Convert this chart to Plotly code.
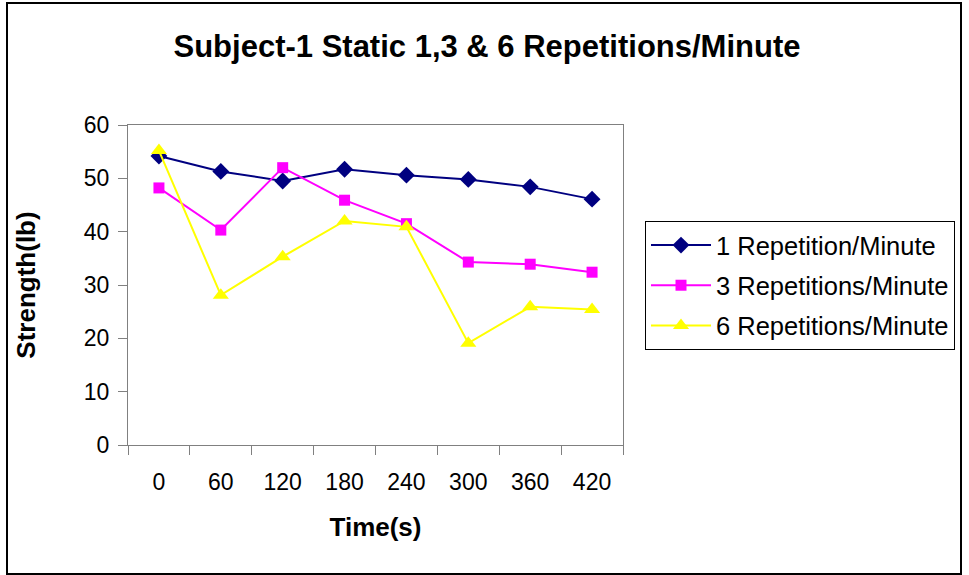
import plotly.graph_objects as go

times = ["0", "60", "120", "180", "240", "300", "360", "420"]
rep1 = [54.2, 51.3, 49.5, 51.7, 50.6, 49.8, 48.4, 46.1]
rep3 = [48.2, 40.3, 52.0, 45.9, 41.5, 34.3, 33.9, 32.4]
rep6 = [55.2, 28.1, 35.3, 42.0, 40.9, 19.1, 25.9, 25.4]
names = ["1 Repetition/Minute", "3 Repetitions/Minute", "6 Repetitions/Minute"]

FONT = "Liberation Sans, Arial, sans-serif"
fig = go.Figure()
fig.add_trace(go.Scatter(x=times, y=rep1, name=names[0], mode="lines+markers", legendgroup="a",
                         line=dict(color="#000080", width=2),
                         marker=dict(symbol="diamond", size=13, color="#000080")))
fig.add_trace(go.Scatter(x=times, y=rep3, name=names[1], mode="lines+markers", legendgroup="b",
                         line=dict(color="#FF00FF", width=2),
                         marker=dict(symbol="square", size=11, color="#FF00FF")))
fig.add_trace(go.Scatter(x=times, y=rep6, name=names[2], mode="lines+markers", legendgroup="c",
                         line=dict(color="#FFFF00", width=2),
                         marker=dict(symbol="triangle-up", size=14, color="#FFFF00")))

L, R, T, B = 128, 623, 125, 445
W, H = 969, 575
pw, ph = R - L, B - T
def px(x):
    return (x - L) / pw
def py(y):
    return (B - y) / ph

fig.update_layout(
    width=W, height=H,
    margin=dict(l=L, r=W - R, t=T, b=H - B),
    paper_bgcolor="white", plot_bgcolor="white",
    font=dict(family=FONT, size=23, color="black"),
    title=dict(text="<b>Subject-1 Static 1,3 & 6 Repetitions/Minute</b>",
               x=px(487), xref="paper", xanchor="center",
               y=1 - 46 / H, yanchor="middle", font=dict(size=31)),
    showlegend=True,
    legend=dict(x=px(645), y=py(221), xanchor="left", yanchor="top",
                bordercolor="black", borderwidth=1, bgcolor="white",
                font=dict(size=25.5), tracegroupgap=4, itemwidth=60),
    xaxis=dict(type="category", range=[-0.5, 7.5], tickson="boundaries",
               ticks="outside", ticklen=9, tickcolor="#808080",
               showline=True, linecolor="#808080", linewidth=1, mirror=True,
               showgrid=False, zeroline=False, ticklabelstandoff=16,
               title=dict(text="<b>Time(s)</b>", font=dict(size=26), standoff=24)),
    yaxis=dict(range=[0, 60], dtick=10, tick0=0,
               ticks="outside", ticklen=9, tickcolor="#808080",
               showline=True, linecolor="#808080", linewidth=1, mirror=True,
               showgrid=False, zeroline=False, ticklabelstandoff=4,
               title=dict(text="<b>Strength(lb)</b>", font=dict(size=26), standoff=40)),
    shapes=[dict(type="rect", xref="paper", yref="paper",
                 x0=px(7), x1=px(961), y0=py(574), y1=py(3),
                 line=dict(color="black", width=2), fillcolor="rgba(0,0,0,0)", layer="below")],
)

fig.write_html("out.html")
